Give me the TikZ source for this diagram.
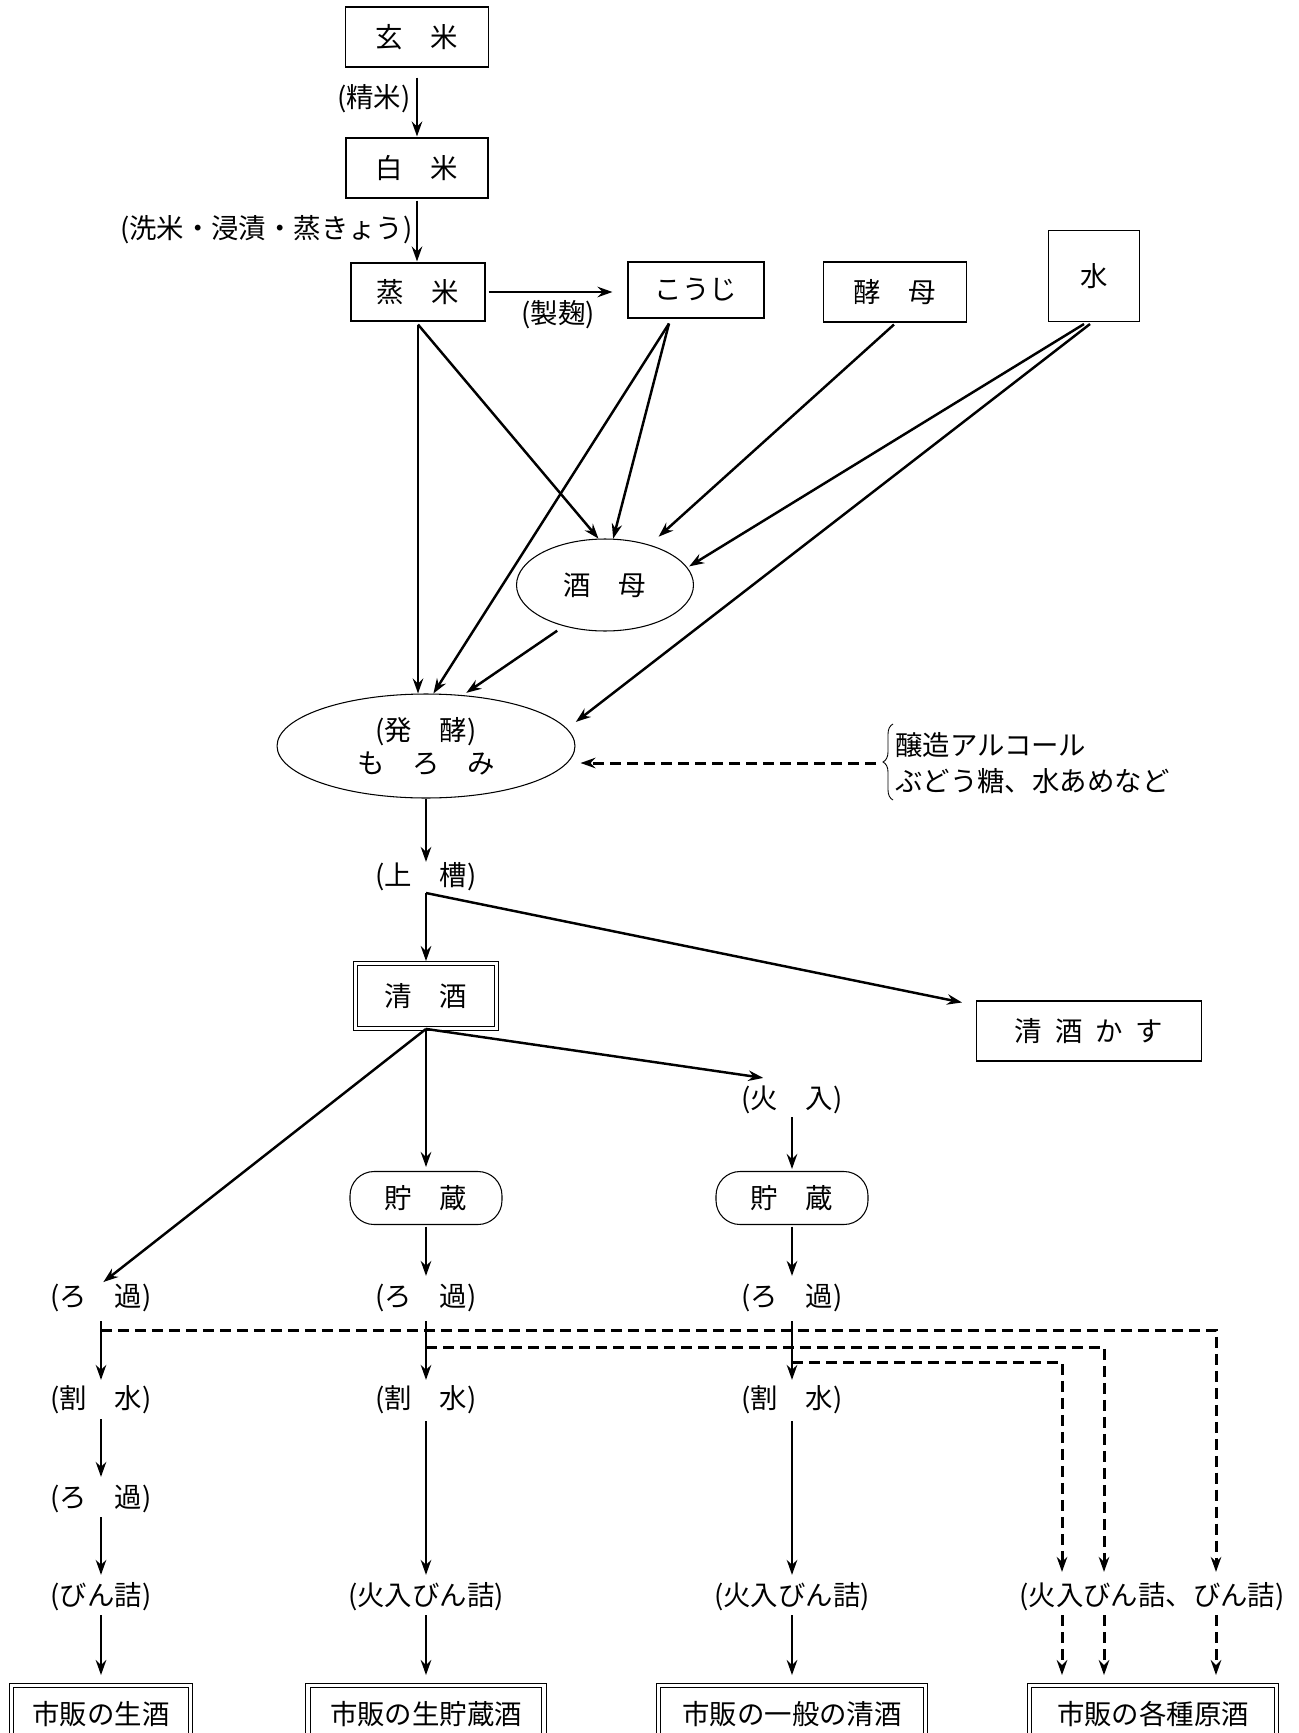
\documentclass[tikz,border=0pt]{standalone}
\usepackage{fontspec}
\setmainfont{Noto Sans CJK JP}
\usetikzlibrary{arrows.meta,shapes.geometric,decorations.pathreplacing,calc}
\begin{document}
\begin{tikzpicture}[x=0.02cm,y=-0.02cm,
  every node/.style={font=\fontsize{15.6pt}{18.7pt}\selectfont, inner sep=0pt},
  box/.style={draw, line width=0.6pt},
  dbox/.style={draw, line width=0.5pt, double, double distance=0.07cm},
  oval/.style={draw, ellipse, line width=0.6pt},
  pill/.style={draw, line width=0.6pt, rounded corners=0.48cm},
  lbl/.style={text height=0.45cm, text depth=0.1cm},
  arr/.style={line width=1.4pt, -{Stealth[length=0.3cm,width=0.21cm,inset=0.1cm]}},
  darr/.style={arr, line width=1.7pt, dash pattern=on 0.22cm off 0.12cm},
]
\path[use as bounding box, fill=white] (0,0) rectangle (1298,1733);

% ---- top part
\node[box, minimum width=2.86cm, minimum height=1.2cm] (genmai) at (417,37) {玄　米};
\node[box, minimum width=2.84cm, minimum height=1.2cm] (hakumai) at (417,168) {白　米};
\node[box, minimum width=2.68cm, minimum height=1.16cm] (mushimai) at (418,292) {蒸　米};
\node[lbl, anchor=east] (seimai) at (411,99) {(精米)};
\node[lbl, anchor=east] (senmai) at (413,230) {(洗米・浸漬・蒸きょう)};
\node[box, minimum width=2.72cm, minimum height=1.12cm] (kouji) at (696,290) {こうじ};
\node[lbl] (seikiku) at (558,315) {(製麹)};
\node[box, minimum width=2.86cm, minimum height=1.2cm] (koubo) at (895,292) {酵　母};
\node[box, minimum width=1.82cm, minimum height=1.82cm] (mizu) at (1094,276) {水};
\node[oval, minimum width=3.54cm, minimum height=1.84cm] (shubo) at (605,585) {酒　母};
\node[oval, minimum width=5.96cm, minimum height=2.08cm, align=center] (moromi) at (426,746) {(発　酵)\\も　ろ　み};

% additives
\draw[line width=0.5pt, decorate, decoration={brace, amplitude=0.2cm}] (893,800) -- (893,724);
\coordinate (bracetip) at (876,763);
\node[lbl, anchor=west] (add1) at (895,747) {醸造アルコール};
\node[lbl, anchor=west] (add2) at (895,783) {ぶどう糖、水あめなど};

% ---- middle part
\node[lbl] (jousou) at (426,877) {(上　槽)};
\coordinate (split) at (426,893);
\node[dbox, minimum width=2.82cm, minimum height=1.3cm] (seishu) at (426,996) {清　酒};
\node[box, minimum width=4.5cm, minimum height=1.2cm] (kasu) at (1089,1031) {清\kern0.26cm 酒\kern0.26cm か\kern0.26cm す};
\node[lbl] (hiire) at (792,1100) {(火　入)};
\node[pill, minimum width=3.04cm, minimum height=1.06cm] (chozo1) at (426,1198) {貯　蔵};
\node[pill, minimum width=3.04cm, minimum height=1.06cm] (chozo2) at (792,1198) {貯　蔵};

% ---- rows
\node[lbl] (rokaL) at (101,1298) {(ろ　過)};
\node[lbl] (rokaM) at (426,1298) {(ろ　過)};
\node[lbl] (rokaR) at (792,1298) {(ろ　過)};
\node[lbl] (wariL) at (101,1400) {(割　水)};
\node[lbl] (wariM) at (426,1400) {(割　水)};
\node[lbl] (wariR) at (792,1400) {(割　水)};
\node[lbl] (roka2L) at (101,1499) {(ろ　過)};
\node[lbl] (binL) at (101,1597) {(びん詰)};
\node[lbl] (binM) at (426,1597) {(火入びん詰)};
\node[lbl] (binR) at (792,1597) {(火入びん詰)};
\node[lbl] (binX) at (1152,1597) {(火入びん詰、びん詰)};

\node[dbox, lbl, minimum width=3.58cm, minimum height=1.22cm] (shop1) at (101,1716) {市販の生酒};
\node[dbox, lbl, minimum width=4.72cm, minimum height=1.22cm] (shop2) at (426,1716) {市販の生貯蔵酒};
\node[dbox, lbl, minimum width=5.34cm, minimum height=1.22cm] (shop3) at (792,1716) {市販の一般の清酒};
\node[dbox, lbl, minimum width=4.94cm, minimum height=1.22cm] (shop4) at (1153,1716) {市販の各種原酒};

% ---- connectors, top
\draw[arr, shorten <=0.2cm, shorten >=0.02cm] (genmai.south) -- (hakumai.north);
\draw[arr, shorten <=0.04cm, shorten >=0.02cm] (hakumai.south) -- (hakumai.south |- mushimai.north);
\draw[arr, shorten <=0.06cm, shorten >=0.3cm] (mushimai.east) -- (mushimai.east -| kouji.west);

\coordinate (mOut) at ($(mushimai.south)+(0,3)$);
\coordinate (kOut) at ($(kouji.south)+(-27,5)$);
\coordinate (bOut) at ($(koubo.south)+(-1,2)$);
\coordinate (wOut1) at ($(mizu.south)+(-10,2)$);
\coordinate (wOut2) at ($(mizu.south)+(-4,2)$);

\draw[arr] (mOut) -- (shubo.98);
\draw[arr] (mOut) -- (mOut |- moromi.north);
\draw[arr] (kOut) -- (shubo.80);
\draw[arr] (kOut) -- (moromi.82);
\draw[arr, shorten >=0.24cm] (bOut) -- (shubo);
\draw[arr, shorten >=0.04cm] (wOut1) -- (shubo.12);
\draw[arr, shorten >=0.22cm] (wOut2) -- (moromi.7);
\draw[arr, shorten <=0.16cm, shorten >=0.08cm] (shubo.-135) -- (moromi.54);
\draw[darr] (bracetip) -- ($(bracetip -| moromi.east)+(5,0)$);

% ---- connectors, middle
\draw[arr, shorten >=0.02cm] (moromi.south) -- (jousou.north);
\draw[arr, shorten >=0.04cm] (split) -- (seishu.north);
\draw[arr] (split) -- ([shift={(-14,2)}]kasu.north west);
\draw[arr] (seishu.south) -- ([shift={(22,-8)}]hiire.north west);
\draw[arr, shorten >=0.08cm] (seishu.south) -- (chozo1.north);
\draw[arr, shorten >=0.06cm] (seishu.south) -- (rokaL.north);
\draw[arr, shorten <=0.06cm, shorten >=0.04cm] (hiire.south) -- (chozo2.north);
\draw[arr, shorten <=0.03cm, shorten >=0.16cm] (chozo1.south) -- (rokaM.north);
\draw[arr, shorten <=0.03cm, shorten >=0.16cm] (chozo2.south) -- (rokaR.north);

% ---- connectors, columns
\draw[arr, shorten <=0.18cm, shorten >=0.12cm] (rokaL.south) -- (wariL.north);
\draw[arr, shorten <=0.18cm, shorten >=0.12cm] (rokaM.south) -- (wariM.north);
\draw[arr, shorten <=0.18cm, shorten >=0.12cm] (rokaR.south) -- (wariR.north);
\draw[arr, shorten <=0.1cm, shorten >=0.16cm] (wariL.south) -- (roka2L.north);
\draw[arr, shorten <=0.08cm, shorten >=0.16cm] (roka2L.south) -- (binL.north);
\draw[arr, shorten <=0.14cm, shorten >=0.16cm] (wariM.south) -- (binM.north);
\draw[arr, shorten <=0.14cm, shorten >=0.16cm] (wariR.south) -- (binR.north);
\draw[arr, shorten <=0.08cm, shorten >=0.2cm] (binL.south) -- (shop1.north);
\draw[arr, shorten <=0.08cm, shorten >=0.2cm] (binM.south) -- (shop2.north);
\draw[arr, shorten <=0.08cm, shorten >=0.2cm] (binR.south) -- (shop3.north);

% ---- dashed routes to 原酒
\coordinate (c1) at (1216,1330);
\coordinate (c2) at (1104,1347);
\coordinate (c3) at (1062,1362);
\draw[darr, shorten >=0.22cm] (rokaL.south |- c1) -- (c1) -- (c1 |- binX.north);
\draw[darr, shorten >=0.22cm] (rokaM.south |- c2) -- (c2) -- (c2 |- binX.north);
\draw[darr, shorten >=0.22cm] (rokaR.south |- c3) -- (c3) -- (c3 |- binX.north);
\draw[darr, shorten <=0.08cm, shorten >=0.2cm] (c1 |- binX.south) -- (c1 |- shop4.north);
\draw[darr, shorten <=0.08cm, shorten >=0.2cm] (c2 |- binX.south) -- (c2 |- shop4.north);
\draw[darr, shorten <=0.08cm, shorten >=0.2cm] (c3 |- binX.south) -- (c3 |- shop4.north);
\end{tikzpicture}
\end{document}
